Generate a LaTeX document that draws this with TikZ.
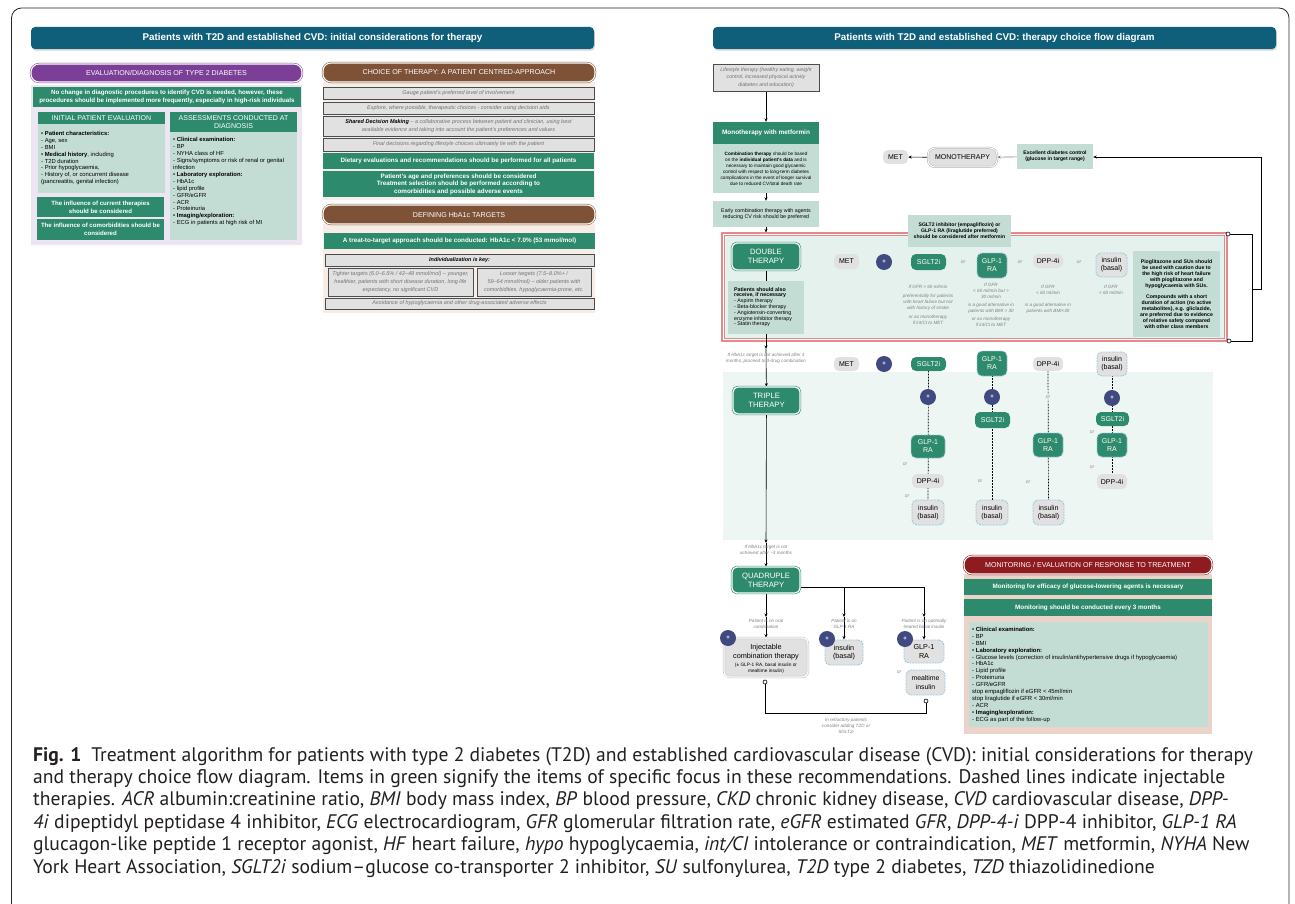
\documentclass[tikz,border=0pt]{standalone}
\usepackage{fontspec}
\setmainfont{Liberation Sans}
\newfontfamily\capfont{PT Sans}
\usetikzlibrary{arrows.meta,shadows,calc}
\definecolor{hdrc}{HTML}{0F5F7A}
\definecolor{grn}{HTML}{2E8A6C}
\definecolor{lgrn}{HTML}{C4DDD4}
\definecolor{lav}{HTML}{ECE6F3}
\definecolor{purp}{HTML}{7B3F97}
\definecolor{brn}{HTML}{7D5236}
\definecolor{peach}{HTML}{F7ECE6}
\definecolor{gry}{HTML}{E1E1E1}
\definecolor{navy}{HTML}{404A80}
\definecolor{mred}{HTML}{8E1B1F}
\definecolor{pinkbg}{HTML}{ECD3CA}
\definecolor{trbg}{HTML}{EEF6F3}
\definecolor{dbg}{HTML}{E4F1EC}
\definecolor{rline}{HTML}{E58A8A}
\definecolor{dashc}{HTML}{9FC6DF}
\definecolor{captc}{HTML}{231F20}
\newcommand\fsz[2]{\fontsize{#1}{#2}\selectfont}
\newcommand\bx[7]{\node[#2,minimum width={#5pt-#3pt},minimum height={#6pt-#4pt},inner sep=0pt] (#1) at ({(#3+#5)/2},{(#4+#6)/2}) {#7};}
\pgfdeclarelayer{bgl}
\pgfdeclarelayer{lines}
\pgfsetlayers{bgl,lines,main}
\tikzset{
  base/.style={inner sep=0pt, align=center, font=\fsz{6.5}{7.5}},
  hdr/.style={base, fill=hdrc, rounded corners=4pt, text=white, font=\bfseries\fsz{9.8}{11},
    drop shadow={opacity=0.35, shadow xshift=0.8pt, shadow yshift=-1.6pt}},
  sect/.style={base, fill=#1, draw=#1, double=white, double distance=1.1pt, line width=0.5pt,
    rounded corners=8pt, text=white, font=\fsz{7.1}{8}},
  therapy/.style={base, fill=grn, draw=grn, double=white, double distance=1.2pt, line width=0.6pt,
    rounded corners=5pt, text=white, font=\fsz{7.7}{9}},
  gbox/.style={base, fill=grn, text=white, font=\bfseries\fsz{6.3}{7.6}},
  gboxr/.style={base, fill=grn, text=white, font=\fsz{7}{8.5}},
  lbox/.style={base, fill=lgrn},
  graybox/.style={base, fill=gry, draw=black!70, line width=0.7pt, font=\itshape\fsz{5.5}{7.6}, text=black!55},
  pill/.style={base, rounded corners=5pt, font=\fsz{7}{8}},
  metp/.style={pill, fill=gry},
  grnp/.style={pill, fill=grn, text=white},
  inj/.style={draw=dashc, line width=0.9pt, dash pattern=on 1.8pt off 1pt},
  monop/.style={base, fill=gry, draw=black!30, double=white, double distance=1pt, line width=0.5pt,
    rounded corners=7pt, font=\fsz{7}{8}},
  injbox/.style={base, fill=gry, draw=black!25, double=white, double distance=1.2pt, line width=0.5pt,
    rounded corners=6pt},
  plus/.style={circle, fill=navy, text=white, minimum size=16pt, inner sep=0pt, font=\bfseries\fsz{6}{6}},
  orl/.style={inner sep=0pt, font=\itshape\fsz{5}{5}, text=black!45},
  note/.style={inner sep=0pt, align=center, font=\itshape\fsz{4.6}{6}, text=black!50},
  lst/.style={align=left, inner sep=0pt, anchor=north west, font=\fsz{5.85}{6.9}},
  ln/.style={line width=0.6pt},
  arr/.style={ln, -{Stealth[length=3.5pt,width=3pt]}},
  dotl/.style={line width=0.7pt, dash pattern=on 0.7pt off 0.8pt},
  endc/.style={circle, draw, line width=0.6pt, fill=white, inner sep=0pt, minimum size=4pt},
  capl/.style={anchor=base west, inner sep=0pt, text=captc, font=\capfont\fsz{19.6}{22}},
}
\begin{document}
\begin{tikzpicture}[x=1pt,y=-1pt]
\useasboundingbox (0,0) rectangle (1295,904);

% ---------- backgrounds ----------
\begin{pgfonlayer}{bgl}
\fill[white] (0,0) rectangle (1295,904);
\draw[black!85, line width=0.8pt, rounded corners=10pt] (11.5,8) rectangle (1289,960);
\bx{lavbg}{fill=lav}{31}{85}{302}{245}{}
\bx{chbg}{fill=peach}{323}{82}{595}{200}{}
\bx{hbbg}{fill=peach}{323}{224}{595}{313}{}
\bx{dframe}{draw=rline, line width=1.1pt, fill=white}{722}{233}{1227}{341}{}
\bx{dinner}{draw=rline, line width=0.6pt, fill=dbg}{724.5}{235.5}{1224.5}{338.5}{}
\bx{tbg}{fill=trbg}{723}{372}{1213}{540}{}
\bx{monbg}{fill=pinkbg}{964}{574}{1212}{734}{}
\end{pgfonlayer}

% ---------- left panel ----------
\bx{hL}{hdr}{31}{27}{594}{49}{Patients with T2D and established CVD: initial considerations for therapy}
\bx{evalH}{sect=purp}{31}{64}{302}{82}{EVALUATION/DIAGNOSIS OF TYPE 2 DIABETES}
\bx{nochg}{gbox,font=\bfseries\fsz{6.2}{8}}{33}{87}{301}{107}{No change in diagnostic procedures to identify CVD is needed, however, these\\procedures should be implemented more frequently, especially in high-risk individuals}
\bx{ipeH}{gboxr}{38}{112}{165}{124}{INITIAL PATIENT EVALUATION}
\bx{ipeB}{lbox}{38}{124}{165}{193}{}
\node[lst] (ipeT) at (41,131) {\textbullet\ \textbf{Patient characteristics:}\\- Age, sex\\- BMI\\\textbullet\ \textbf{Medical history}, including\\- T2D duration\\- Prior hypoglycaemia,\\- History of, or concurrent disease\\(pancreatitis, genital infection)};
\bx{acdH}{gboxr}{170}{112}{297}{132}{ASSESSMENTS CONDUCTED AT\\DIAGNOSIS}
\bx{acdB}{lbox}{170}{132}{297}{240}{}
\node[lst] (acdT) at (173,137.5) {\textbullet\ \textbf{Clinical examination:}\\- BP\\- NYHA class of HF\\- Signs/symptoms or risk of renal or genital\\infection\\\textbullet\ \textbf{Laboratory exploration:}\\- HbA1c\\- lipid profile\\- GFR/eGFR\\- ACR\\- Proteinuria\\\textbullet\ \textbf{Imaging/exploration:}\\- ECG in patients at high risk of MI};
\bx{curT}{gbox,font=\bfseries\fsz{6.1}{7.8}}{37}{197}{164}{217}{The influence of current therapies\\should be considered}
\bx{comT}{gbox,font=\bfseries\fsz{6.1}{7.8}}{37}{219}{164}{240}{The influence of comorbidities should be\\considered}

% ---------- middle panel ----------
\bx{choiceH}{sect=brn}{323}{63}{595}{82}{CHOICE OF THERAPY: A PATIENT CENTRED-APPROACH}
\bx{g1}{graybox}{323}{87}{594}{99}{Gauge patient's preferred level of involvement}
\bx{g2}{graybox}{323}{102}{594}{114}{Explore, where possible, therapeutic choices - consider using decision aids}
\bx{g3}{graybox}{323}{116}{594}{136}{{\bfseries\color{black}Shared Decision Making} – a collaborative process between patient and clinician, using best\\available evidence and taking into account the patient's preferences and values}
\bx{g4}{graybox}{323}{138}{594}{151}{Final decisions regarding lifestyle choices ultimately lie with the patient}
\bx{diet}{gbox}{323}{153}{594}{169}{Dietary evaluations and recommendations should be performed for all patients}
\bx{age}{gbox}{323}{171}{594}{197}{Patient's age and preferences should be considered\\Treatment selection should be performed according to\\comorbidities and possible adverse events}
\bx{hbH}{sect=brn}{323}{205}{595}{224}{DEFINING HbA1c TARGETS}
\bx{t2t}{gbox}{324}{233}{595}{249}{A treat-to-target approach should be conducted: HbA1c < 7.0\% (53 mmol/mol)}
\bx{indiv}{graybox,font=\bfseries\itshape\fsz{5.4}{6},text=black}{325}{254}{594}{266}{Individualization is key:}
\bx{tight}{graybox}{328}{268}{473}{296}{Tighter targets (6.0–6.5\% / 42–48 mmol/mol) – younger,\\healthier, patients with short disease duration, long life\\expectancy, no significant CVD}
\bx{loose}{graybox}{477}{268}{591}{296}{Looser targets (7.5–8.0\%+ /\\59–64 mmol/mol) – older patients with\\comorbidities, hypoglycaemia-prone, etc.}
\bx{avoid}{graybox}{325}{298}{594}{309}{Avoidance of hypoglycaemia and other drug-associated adverse effects}

% ---------- right panel ----------
\bx{hR}{hdr}{713}{27}{1276}{49}{Patients with T2D and established CVD: therapy choice flow diagram}
\bx{life}{graybox,font=\itshape\fsz{5.2}{7.3}}{713}{64}{819}{91}{Lifestyle therapy (healthy eating, weight\\control, increased physical activity\\diabetes and education)}
\bx{mono}{gbox,font=\bfseries\fsz{6.4}{7.5}}{713}{122}{819}{144}{Monotherapy with metformin}
\bx{comb}{lbox,font=\fsz{4.7}{6}}{713}{144}{819}{193}{\textbf{Combination therapy} should be based\\on the \textbf{individual patient's data} and is\\necessary to maintain good glycaemic\\control with respect to long-term diabetes\\complications in the event of longer survival\\due to reduced CV/total death rate}
\bx{early}{lbox,font=\fsz{5.3}{6.6}}{713}{201}{819}{227}{Early combination therapy with agents\\reducing CV risk should be preferred}
\bx{met0}{metp}{883}{150}{908}{164}{MET}
\bx{monoT}{monop}{928}{148}{997}{167}{MONOTHERAPY}
\bx{exc}{lbox,font=\bfseries\fsz{5.1}{6.2}}{1017}{144}{1093}{169}{Excellent diabetes control\\(glucose in target range)}

% double therapy
\bx{sgltN}{lbox,font=\bfseries\fsz{5.1}{6}}{908}{215}{1011}{247}{SGLT2 inhibitor (empagliflozin) or\\GLP-1 RA (liraglutide preferred)\\should be considered after metformin}
\bx{dbl}{therapy}{732}{243}{800}{270}{DOUBLE\\THERAPY}
\bx{pat}{lbox}{728}{281}{804}{334}{}
\node[lst,font=\fsz{5.3}{5.8}] (patT) at (734,287) {\textbf{Patients should also}\\\textbf{receive, if necessary}\\- Aspirin therapy\\- Beta-blocker therapy\\- Angiotensin-converting\\enzyme inhibitor therapy\\- Statin therapy};
\bx{dmet}{metp}{834}{254}{859}{269}{MET}
\node[plus] (dplus) at (884,262) {+};
\bx{dsg}{grnp}{911}{254}{946}{270}{SGLT2i}
\bx{dglp}{grnp,inj}{977}{253}{1007}{278}{GLP-1\\RA}
\bx{ddpp}{metp}{1033}{254}{1063}{268}{DPP-4i}
\bx{dins}{metp,inj}{1096}{253}{1127}{277}{insulin\\(basal)}
\node[orl] (dor1) at (963,262) {or};
\node[orl] (dor2) at (1020,262) {or};
\node[orl] (dor3) at (1079,262) {or};
\node[note,anchor=north] (nS) at (928,285) {If GFR > 60 ml/min\\[3pt]preferentially for patients\\with heart failure but not\\with history of stroke\\[3pt]or as monotherapy\\if int/CI to MET};
\node[note,anchor=north] (nG) at (991,283) {If GFR\\< 60 ml/min but >\\30 ml/min\\[2pt]is a good alternative in\\patients with BMI > 30\\[2pt]or as monotherapy\\if int/CI to MET};
\node[note,anchor=north] (nD) at (1048,285) {If GFR\\< 60 ml/min\\[6pt]is a good alternative in\\patients with BMI<30};
\node[note,anchor=north] (nI) at (1111,285) {If GFR\\< 60 ml/min};
\bx{pio}{lbox,font=\bfseries\fsz{5.2}{5.9}}{1133}{251}{1220}{337}{Pioglitazone and SUs should\\be used with caution due to\\the high risk of heart failure\\with pioglitazone and\\hypoglycaemia with SUs.\\[5.9pt]Compounds with a short\\duration of action (no active\\metabolites), e.g. gliclazide,\\are preferred due to evidence\\of relative safety compared\\with other class members}
\node[endc] (ce1) at (1228,234) {};
\node[endc] (ce2) at (1229,341) {};
\coordinate (br1) at (1252,234);
\coordinate (br2) at (1252,341);
\coordinate (br3) at (1252,289);
\coordinate (br4) at (1261,289);
\coordinate (br5) at (1261,157);

% triple therapy
\node[note] (nT) at (766,358) {If HbA1c target is not achieved after 3\\months, proceed to 3-drug combination};
\coordinate (m1) at (766,349);
\bx{tmet}{metp}{834}{357}{859}{371}{MET}
\node[plus] (tplus) at (884,364) {+};
\bx{t1s}{grnp}{911}{357}{946}{371}{SGLT2i}
\bx{t2g}{grnp,inj}{977}{351}{1007}{376}{GLP-1\\RA}
\bx{t3d}{metp}{1033}{357}{1063}{371}{DPP-4i}
\bx{t4i}{metp,inj}{1097}{352}{1127}{376}{insulin\\(basal)}
\bx{tri}{therapy}{733}{387}{800}{414}{TRIPLE\\THERAPY}
\node[plus] (c1p) at (928,397) {+};
\bx{c1g}{grnp,inj}{911}{435}{945}{458}{GLP-1\\RA}
\bx{c1d}{metp}{912}{474}{944}{488}{DPP-4i}
\bx{c1i}{metp,inj}{912}{500}{944}{525}{insulin\\(basal)}
\node[orl] (o11) at (905,464) {or};
\node[orl] (o12) at (907,496) {or};
\node[plus] (c2p) at (992,397) {+};
\bx{c2s}{grnp}{975}{412}{1010}{428}{SGLT2i}
\bx{c2i}{metp,inj}{976}{500}{1008}{525}{insulin\\(basal)}
\node[orl] (o21) at (980,481) {or};
\node[orl,fill=trbg,inner sep=0.5pt] (o31) at (1048,397) {or};
\bx{c3g}{grnp,inj}{1033}{433}{1063}{457}{GLP-1\\RA}
\bx{c3i}{metp,inj}{1033}{500}{1064}{525}{insulin\\(basal)}
\node[orl] (o32) at (1028,482) {or};
\node[plus] (c4p) at (1112,398) {+};
\bx{c4s}{grnp}{1096}{412}{1129}{426}{SGLT2i}
\bx{c4g}{grnp,inj}{1097}{433}{1127}{457}{GLP-1\\RA}
\bx{c4d}{metp}{1097}{474}{1127}{489}{DPP-4i}
\node[orl] (o41) at (1092,432) {or};
\node[orl] (o42) at (1092,467) {or};

% quadruple therapy
\coordinate (m2) at (766,543);
\node[note] (nQ) at (766,550) {If HbA1c target is not\\achieved after \textasciitilde3 months};
\bx{quad}{therapy}{732}{567}{800}{593}{QUADRUPLE\\THERAPY}
\coordinate (qe) at (800,587);
\coordinate (j4) at (844,587);
\coordinate (m3) at (766,617);
\coordinate (m4) at (844,617);
\coordinate (m5) at (924,617);
\node[note] (nq1) at (766,624) {Patient is on oral\\combination};
\node[note] (nq2) at (844,624) {Patient is on\\GLP-1 RA};
\node[note] (nq3) at (924,624) {Patient is on optimally\\treated basal insulin};
\bx{inj}{injbox}{724}{638}{808}{677}{}
\node[inner sep=0pt, align=center, font=\fsz{7.3}{8.6}] (injT) at (766,652) {Injectable\\combination therapy};
\node[inner sep=0pt, align=center, font=\fsz{4.8}{5.6}] (injS) at (766,668.5) {(± GLP-1 RA, basal insulin or\\mealtime insulin)};
\bx{qins}{metp,inj,font=\fsz{7.2}{8.6}}{825}{640}{863}{665}{insulin\\(basal)}
\bx{qglp}{metp,inj,font=\fsz{7.2}{8.6}}{904}{640}{944}{663}{GLP-1\\RA}
\bx{qmeal}{metp,inj,font=\fsz{6.9}{8.6}}{906}{670}{945}{695}{mealtime\\insulin}
\node[plus] (qp1) at (728,638) {+};
\node[plus] (qp2) at (827,639) {+};
\node[plus] (qp3) at (905,639) {+};
\node[orl] (oq) at (899,672) {or};
\node[endc] (e1) at (765,682) {};
\node[endc] (e2) at (926,701) {};
\coordinate (bl) at (765,713);
\node[note] (nR) at (846,726) {In refractory patients\\consider adding TZD or\\SGLT2i};

% monitoring
\bx{monH}{sect=mred}{964}{556}{1212}{574}{MONITORING / EVALUATION OF RESPONSE TO TREATMENT}
\bx{mon1}{gbox}{964}{579}{1212}{595}{Monitoring for efficacy of glucose-lowering agents is necessary}
\bx{mon2}{gbox}{964}{599}{1212}{616}{Monitoring should be conducted every 3 months}
\bx{monB}{lbox}{969}{622}{1208}{727}{}
\node[lst,font=\fsz{5.9}{6.9}] (monT) at (972,627) {\textbullet\ \textbf{Clinical examination:}\\- BP\\- BMI\\\textbullet\ \textbf{Laboratory exploration:}\\- Glucose levels (correction of insulin/antihypertensive drugs if hypoglycaemia)\\- HbA1c\\- Lipid profile\\- Proteinuria\\- GFR/eGFR\\stop empagliflozin if eGFR < 45ml/min\\stop liraglutide if eGFR < 30ml/min\\- ACR\\\textbullet\ \textbf{Imaging/exploration:}\\- ECG as part of the follow-up};

% ---------- connectors ----------
\begin{pgfonlayer}{lines}
\draw[arr] (life) -- (mono);
\draw[arr] (comb) -- (early);
\draw[arr] (early.south) -- (early.south |- dframe.north);
\draw[arr] (monoT) -- (met0);
\draw[arr, black!50] (exc) -- (monoT);
\draw[ln] (ce1) -- (br1) -- (br2) -- (ce2);
\draw[arr] (br3) -- (br4) -- (br5) -- (exc.east |- br5);
\draw[ln] (dbl) -- (pat);
\draw[arr] (pat) -- (m1);
\draw[arr] (m1) -- (tri);
\draw[dotl] (t1s) -- (c1i);
\draw[dotl] (t2g) -- (c2i);
\draw[dotl] (t3d) -- (c3i);
\draw[dotl] (t4i) -- (c4d);
\draw[arr] (tri) -- (m2);
\draw[arr] (m2) -- (quad);
\draw[arr] (quad) -- (m3);
\draw[arr] (m3) -- (inj);
\draw[arr] (qe) -| (m5);
\draw[arr] (j4) -- (m4);
\draw[arr] (m4) -- (qins);
\draw[arr] (m5) -- (qglp);
\draw[ln] (e1) -- (bl) -| (e2);
\end{pgfonlayer}

% ---------- caption ----------
\node[capl] (cap1) at (33,761) {\textbf{Fig. 1}\enspace Treatment algorithm for patients with type 2 diabetes (T2D) and established cardiovascular disease (CVD): initial considerations for therapy};
\node[capl] (cap2) at (33,783.4) {and therapy choice flow diagram. Items in green signify the items of specific focus in these recommendations. Dashed lines indicate injectable};
\node[capl] (cap3) at (33,805.8) {therapies. \textit{ACR} albumin:creatinine ratio, \textit{BMI} body mass index, \textit{BP} blood pressure, \textit{CKD} chronic kidney disease, \textit{CVD} cardiovascular disease, \textit{DPP-}};
\node[capl] (cap4) at (33,828.2) {\textit{4i} dipeptidyl peptidase 4 inhibitor, \textit{ECG} electrocardiogram, \textit{GFR} glomerular filtration rate, \textit{eGFR} estimated \textit{GFR}, \textit{DPP-4-i} DPP-4 inhibitor, \textit{GLP-1 RA}};
\node[capl] (cap5) at (33,850.6) {glucagon-like peptide 1 receptor agonist, \textit{HF} heart failure, \textit{hypo} hypoglycaemia, \textit{int/CI} intolerance or contraindication, \textit{MET} metformin, \textit{NYHA} New};
\node[capl] (cap6) at (33,873) {York Heart Association, \textit{SGLT2i} sodium–glucose co-transporter 2 inhibitor, \textit{SU} sulfonylurea, \textit{T2D} type 2 diabetes, \textit{TZD} thiazolidinedione};
\end{tikzpicture}
\end{document}
